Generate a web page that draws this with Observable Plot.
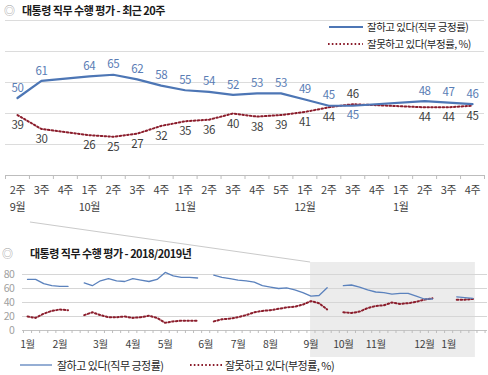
<!DOCTYPE html>
<html><head><meta charset="utf-8">
<script src="https://cdn.jsdelivr.net/npm/d3@7"></script>
<script src="https://cdn.jsdelivr.net/npm/@observablehq/plot@0.6"></script>
<style>
body{margin:0;background:#fff;font-family:"Noto Sans CJK KR",sans-serif;}
#wrap{position:relative;width:488px;height:375px;overflow:hidden;background:#fff;}
#wrap svg text{letter-spacing:-0.4px;}
.abs{position:absolute;left:0;}
.title{position:absolute;font-weight:bold;font-size:11px;color:#1a1a1a;white-space:nowrap;letter-spacing:-0.5px;line-height:12px;}
.leg{position:absolute;font-size:10.5px;color:#262626;white-space:nowrap;letter-spacing:-0.5px;line-height:12px;}
</style></head>
<body>
<div id="wrap"></div>
<script>
// ---------- data ----------
const recentWeeks = ["2주","3주","4주","1주","2주","3주","4주","1주","2주","3주","4주","5주","1주","2주","3주","4주","1주","2주","3주","4주"];
const recentMonths = ["9월","","","10월","","","","11월","","","","","12월","","","","1월","","",""];
const recentPositive = [50,61,null,64,65,62,58,55,54,52,53,53,49,45,45,null,null,48,47,46];
const recentNegative = [39,30,null,26,25,27,32,35,36,40,38,39,41,44,46,null,null,44,44,45];

// 2018 weekly values before the recent 20 weeks (week index 0..35)
const earlyPositive = [73,73,67,64,63,63,null,68,64,71,74,71,70,74,72,70,73,83,78,76,76,75,null,79,76,74,72,71,69,64,62,60,61,58,54,49];
const earlyNegative = [20,18,24,28,30,29,null,22,26,22,19,19,20,18,19,21,18,11,13,14,14,14,null,13,16,17,19,22,26,28,29,31,33,34,37,42];

const monthLabels = ["1월","2월","3월","4월","5월","6월","7월","8월","9월","10월","11월","12월","1월"];
const monthWeek = [0,4,9,13,17,22,26,30,35,39,43,49,52];

const legendPos = "잘하고 있다(직무 긍정률)";
const legendNeg = "잘못하고 있다(부정률, %)";
const titleTop = "대통령 직무 수행 평가 - 최근 20주";
const titleBottom = "대통령 직무 수행 평가 - 2018/2019년";

// ---------- colours ----------
const BLUE = "#4d76b5", BLUE_LABEL = "#5a7db5", RED = "#8b1d2c", DARK = "#3f3f3f";
const FONT = "'Noto Sans CJK KR', sans-serif";

const wrap = document.getElementById("wrap");

// ---------- top chart ----------
const topData = recentWeeks.map((w, i) => ({i, week: w, month: recentMonths[i], pos: recentPositive[i], neg: recentNegative[i]}));
const posD = topData.filter(d => d.pos != null);
const negD = topData.filter(d => d.neg != null);
const posAbove = posD.filter(d => d.neg == null || d.pos >= d.neg);
const posBelow = posD.filter(d => !(d.neg == null || d.pos >= d.neg));
const negBelow = negD.filter(d => d.pos == null || d.pos >= d.neg);
const negAbove = negD.filter(d => !(d.pos == null || d.pos >= d.neg));
const bounds = d3.range(-0.5, recentWeeks.length, 1);

const topPlot = Plot.plot({
  width: 488, height: 225,
  marginLeft: 5, marginRight: 4, marginTop: 20, marginBottom: 50,
  x: {domain: [-0.5, recentWeeks.length - 0.5], axis: null, label: null},
  y: {domain: [0, 100], axis: null, label: null},
  style: {fontFamily: FONT, fontSize: "11px", background: "transparent", overflow: "visible"},
  marks: [
    Plot.ruleY([20, 40, 60, 80, 100], {stroke: "#dcdcdc", strokeWidth: 1}),
    Plot.ruleY([0], {stroke: "#bdbdbd", strokeWidth: 1}),
    Plot.axisX({ticks: bounds, tickSize: 4, tickFormat: () => "", stroke: "#bdbdbd", label: null}),
    Plot.text(topData, {x: "i", y: 0, text: "week", dy: 15, fill: DARK, fontSize: 11}),
    Plot.text(topData, {x: "i", y: 0, text: "month", dy: 32, fill: DARK, fontSize: 11}),
    Plot.line(negD, {x: "i", y: "neg", stroke: RED, strokeWidth: 2, strokeDasharray: "1.6,2.2"}),
    Plot.line(posD, {x: "i", y: "pos", stroke: BLUE, strokeWidth: 2.2}),
    Plot.text(posAbove, {x: "i", y: "pos", text: d => String(d.pos), dy: -10, fill: BLUE_LABEL, fontSize: 11.5}),
    Plot.text(posBelow, {x: "i", y: "pos", text: d => String(d.pos), dy: 10, fill: BLUE_LABEL, fontSize: 11.5}),
    Plot.text(negBelow, {x: "i", y: "neg", text: d => String(d.neg), dy: 10.5, fill: DARK, fontSize: 11.5}),
    Plot.text(negAbove, {x: "i", y: "neg", text: d => String(d.neg), dy: -10, fill: DARK, fontSize: 11.5})
  ]
});
topPlot.classList.add("abs");
topPlot.style.top = "0px";
wrap.appendChild(topPlot);

// ---------- bottom chart ----------
const yearPositive = earlyPositive.concat(recentPositive);
const yearNegative = earlyNegative.concat(recentNegative);
const yearData = yearPositive.map((p, i) => ({i, pos: p, neg: yearNegative[i]}));
const recentStart = earlyPositive.length;
const lastWeek = yearPositive.length - 1;
const monthData = monthLabels.map((m, k) => ({m, w: monthWeek[k]}));
const BOTTOM_TOP = 225;

const botPlot = Plot.plot({
  width: 488, height: 150,
  marginLeft: 22, marginRight: 1, marginTop: 49, marginBottom: 45,
  x: {domain: [-0.62, 56.8], axis: null, label: null},
  y: {domain: [0, 80], axis: null, label: null},
  style: {fontFamily: FONT, fontSize: "10px", background: "transparent", overflow: "visible"},
  marks: [
    Plot.rect([{x1: recentStart - 1.05, x2: lastWeek + 0.3}], {x1: "x1", x2: "x2", fill: "#ececec", insetTop: -12, insetBottom: -27}),
    Plot.ruleY([20, 40, 60, 80], {stroke: "#d6d6d6", strokeWidth: 1}),
    Plot.ruleY([0], {stroke: "#c4c4c4", strokeWidth: 1}),
    Plot.axisX({ticks: d3.range(-0.5, 57, 1), tickSize: 3, tickFormat: () => "", stroke: "#bdbdbd", label: null}),
    Plot.axisY({ticks: [0, 20, 40, 60, 80], tickSize: 0, tickPadding: 8, fill: "#a0a0a0", fontSize: 10.5, label: null}),
    Plot.text(monthData, {x: "w", y: 0, text: "m", dy: 14, fill: DARK, fontSize: 10.5}),
    Plot.line(yearData, {x: "i", y: "neg", stroke: RED, strokeWidth: 2, strokeDasharray: "1.6,2.2"}),
    Plot.line(yearData, {x: "i", y: "pos", stroke: "#5b82bd", strokeWidth: 1.3})
  ]
});
botPlot.classList.add("abs");
botPlot.style.top = BOTTOM_TOP + "px";
wrap.appendChild(botPlot);

// ---------- connector from top range to highlighted region ----------
const xt = topPlot.scale("x"), yt = topPlot.scale("y");
const xb = botPlot.scale("x"), yb = botPlot.scale("y");
const ns = "http://www.w3.org/2000/svg";
const over = document.createElementNS(ns, "svg");
over.setAttribute("width", 488); over.setAttribute("height", 375);
over.setAttribute("class", "abs"); over.style.top = "0px"; over.style.pointerEvents = "none";
const conn = document.createElementNS(ns, "line");
conn.setAttribute("x1", xt.apply(0) + 13); conn.setAttribute("y1", yt.apply(0) + 47);
conn.setAttribute("x2", xb.apply(recentStart - 1.05)); conn.setAttribute("y2", BOTTOM_TOP + yb.apply(80) - 12);
conn.setAttribute("stroke", "#cacaca"); conn.setAttribute("stroke-width", 1);
over.appendChild(conn);

// legend sample lines
function sample(x1, x2, y, color, w, dash) {
  const l = document.createElementNS(ns, "line");
  l.setAttribute("x1", x1); l.setAttribute("x2", x2); l.setAttribute("y1", y); l.setAttribute("y2", y);
  l.setAttribute("stroke", color); l.setAttribute("stroke-width", w);
  if (dash) l.setAttribute("stroke-dasharray", dash);
  over.appendChild(l);
}
sample(329, 363, 27, BLUE, 2.2);
sample(328, 363, 44, RED, 2, "1.6,2.2");
sample(20, 52, 365, "#5b82bd", 1.3);
sample(190, 222, 365, RED, 2, "1.6,2.2");
wrap.appendChild(over);

// ---------- titles & legends (HTML text) ----------
function addTitle(text, left, top, markLeft) {
  const d = document.createElement("div");
  d.className = "title";
  d.style.left = left + "px"; d.style.top = top + "px";
  d.textContent = text;
  wrap.appendChild(d);
  const m = document.createElement("div");
  m.className = "title"; m.style.color = "#9a9a9a"; m.style.fontWeight = "normal";
  m.style.left = markLeft + "px"; m.style.top = top + "px"; m.textContent = "◎";
  wrap.appendChild(m);
}
addTitle(titleTop, 22, 4, 4);
addTitle(titleBottom, 30, 247, 2);

function addLegend(text, left, top, size) {
  const d = document.createElement("div");
  d.className = "leg";
  d.style.left = left + "px"; d.style.top = top + "px"; d.style.fontSize = size + "px";
  d.textContent = text;
  wrap.appendChild(d);
}
addLegend(legendPos, 367, 21, 10.5);
addLegend(legendNeg, 367, 38, 10.5);
addLegend(legendPos, 57, 359, 11);
addLegend(legendNeg, 225, 359, 11);
</script>
</body></html>
